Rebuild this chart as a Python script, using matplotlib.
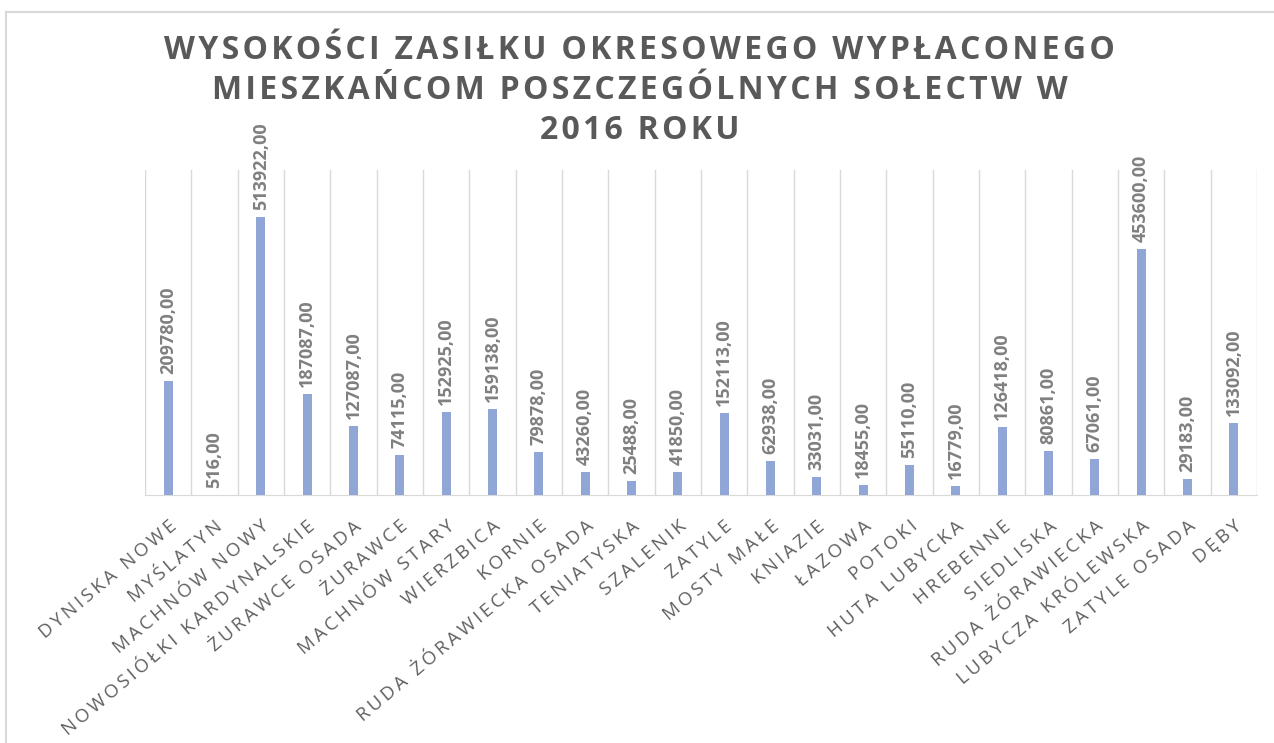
import matplotlib
matplotlib.use('Agg')
import matplotlib.pyplot as plt
import numpy as np

SOLECTWA = ['DYNISKA NOWE', 'MYŚLATYN', 'MACHNÓW NOWY', 'NOWOSIÓŁKI KARDYNALSKIE',
            'ŻURAWCE OSADA', 'ŻURAWCE', 'MACHNÓW STARY', 'WIERZBICA', 'KORNIE',
            'RUDA ŻÓRAWIECKA OSADA', 'TENIATYSKA', 'SZALENIK', 'ZATYLE', 'MOSTY MAŁE',
            'KNIAZIE', 'ŁAZOWA', 'POTOKI', 'HUTA LUBYCKA', 'HREBENNE', 'SIEDLISKA',
            'RUDA ŻÓRAWIECKA', 'LUBYCZA KRÓLEWSKA', 'ZATYLE OSADA', 'DĘBY']
KWOTY = [209780, 516, 513922, 187087, 127087, 74115, 152925, 159138, 79878,
         43260, 25488, 41850, 152113, 62938, 33031, 18455, 55110, 16779,
         126418, 80861, 67061, 453600, 29183, 133092]
TITLE_LINES = ['WYSOKOŚCI ZASIŁKU OKRESOWEGO WYPŁACONEGO',
               'MIESZKAŃCOM POSZCZEGÓLNYCH SOŁECTW W',
               '2016 ROKU']

FONTS = ['Open Sans', 'DejaVu Sans']
HAIR = '\u200a'
THIN = '\u2009'


def spaced(s, gap=HAIR):
    # the screenshot is stretched sideways, extra gaps fake the wide letters
    return gap.join(s)


fig = plt.figure(figsize=(12.74, 7.43), dpi=100)
ax = fig.add_axes([145 / 1274, 1 - 495 / 743, 1112 / 1274, 325 / 743])

x = np.arange(len(SOLECTWA))
ax.bar(x, KWOTY, width=0.19, color='#8FA6D6', zorder=3)

for xi, v in zip(x, KWOTY):
    ax.annotate(f'{v},00', (xi, v), xytext=(0, 5), textcoords='offset points',
                rotation=90, ha='center', va='bottom', fontsize=13,
                fontweight='bold', color='#808080', family=FONTS)

ax.set_xlim(-0.5, len(SOLECTWA) - 0.5)
ax.set_ylim(0, 600000)
ax.set_xticks(x)
ax.set_xticklabels([spaced(s, THIN) for s in SOLECTWA], rotation=40, ha='right',
                   rotation_mode='anchor', fontsize=13.5, color='#606060', family=FONTS)
ax.tick_params(axis='x', length=0, pad=16)
ax.set_yticks([])
ax.set_xticks(np.arange(-0.5, len(SOLECTWA), 1), minor=True)
ax.tick_params(axis='x', which='minor', length=0)
ax.grid(axis='x', which='minor', color='#D9D9D9', linewidth=1)
for side in ['top', 'left', 'right']:
    ax.spines[side].set_visible(False)
ax.spines['bottom'].set_color('#D9D9D9')

for i, line in enumerate(TITLE_LINES):
    fig.text(0.502, 1 - (34 + 40 * i) / 743, spaced(line), ha='center', va='top',
             fontsize=23, fontweight='bold', color='#595959', family=FONTS)

# frame of the chart area (only top and left edge visible in the crop)
fig.add_artist(plt.Line2D([6 / 1274, 1], [1 - 12 / 743, 1 - 12 / 743], color='#D9D9D9', lw=1.5))
fig.add_artist(plt.Line2D([6 / 1274, 6 / 1274], [0, 1 - 12 / 743], color='#D9D9D9', lw=1.5))

fig.savefig('out.png', dpi=100)
